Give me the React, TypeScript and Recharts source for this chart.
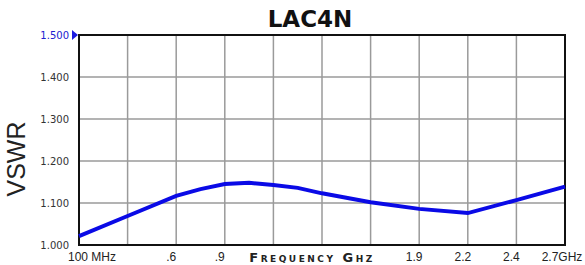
import { LineChart, Line, XAxis, YAxis, CartesianGrid, ReferenceArea } from "recharts";

// x positions are grid-column indices (0 = 100 MHz ... 10 = 2.7 GHz)
const freqIndex = [0, 1, 2, 2.5, 3, 3.5, 4, 4.5, 5, 6, 7, 8, 9, 10];
const vswr = [1.021, 1.069, 1.117, 1.133, 1.145, 1.148, 1.143, 1.136, 1.123, 1.102, 1.086, 1.076, 1.107, 1.139];

const xTicks = [0, 1, 2, 3, 4, 5, 6, 7, 8, 9, 10];
const xTickLabels = ["100 MHz", "", ".6", ".9", "", "", "", "1.9", "2.2", "2.4", "2.7GHz"];
const yTicks = [1.0, 1.1, 1.2, 1.3, 1.4, 1.5];

const data = freqIndex.map((x, i) => ({ x, vswr: vswr[i] }));

function XTick(props: any) {
  const { x, index } = props;
  const label = xTickLabels[index] ?? "";
  if (!label) return null;
  const dx = index === 0 ? 13 : index === 10 ? -3 : -5;
  return (
    <text x={x + dx} y={261} textAnchor="middle" fontSize={12} fill="#222" fontFamily="Liberation Sans, Arial, sans-serif">
      {label}
    </text>
  );
}

function YTick(props: any) {
  const { x, y, payload } = props;
  const top = payload.value >= 1.5;
  return (
    <g>
      <text x={x} y={y} dy={4} textAnchor="end" fontSize={10} fill={top ? "#2020d0" : "#333"} fontFamily="DejaVu Sans, Verdana, sans-serif">
        {payload.value.toFixed(3)}
      </text>
      {top && <polygon points={`${x + 3},${y - 5} ${x + 9},${y} ${x + 3},${y + 5}`} fill="#1a1ae0" />}
    </g>
  );
}

export default function App() {
  return (
    <div style={{ position: "fixed", left: 0, top: 0, width: 585, height: 265, background: "#fff" }}>
      <div
        style={{
          position: "absolute",
          left: 0,
          width: 620,
          top: 6,
          textAlign: "center",
          fontFamily: "DejaVu Sans, Arial, sans-serif",
          fontWeight: 900,
          fontSize: 23,
          color: "#111",
        }}
      >
        LAC4N
      </div>
      <LineChart width={585} height={265} data={data} margin={{ top: 35, right: 20, left: 0, bottom: 0 }}>
        <CartesianGrid stroke="#9a9a9a" strokeWidth={1.5} />
        <XAxis
          dataKey="x"
          type="number"
          domain={[0, 10]}
          ticks={xTicks}
          height={20}
          tickLine={false}
          axisLine={false}
          tickSize={0}
          tick={<XTick />}
          interval={0}
          label={{
            content: () => (
              <text
                x={312}
                y={262}
                textAnchor="middle"
                fontSize={13}
                fontWeight="bold"
                letterSpacing={2.5}
                fill="#222"
                style={{ fontVariant: "small-caps" }}
                fontFamily="DejaVu Sans, Verdana, sans-serif"
              >
                Frequency Ghz
              </text>
            ),
          }}
        />
        <YAxis
          type="number"
          domain={[1.0, 1.5]}
          ticks={yTicks}
          width={79}
          tickLine={false}
          axisLine={false}
          tickSize={0}
          tickMargin={10}
          tick={<YTick />}
          interval={0}
          label={{
            content: () => (
              <text
                x={0}
                y={0}
                transform="translate(25,159) rotate(-90)"
                textAnchor="middle"
                fontSize={25}
                fill="#222"
                fontFamily="Liberation Sans, Arial, sans-serif"
              >
                VSWR
              </text>
            ),
          }}
        />
        <ReferenceArea x1={0} x2={10} y1={1.0} y2={1.5} fill="none" stroke="#111" strokeWidth={2} />
        <Line type="linear" dataKey="vswr" stroke="#0a0ae6" strokeWidth={4} dot={false} isAnimationActive={false} />
      </LineChart>
    </div>
  );
}
